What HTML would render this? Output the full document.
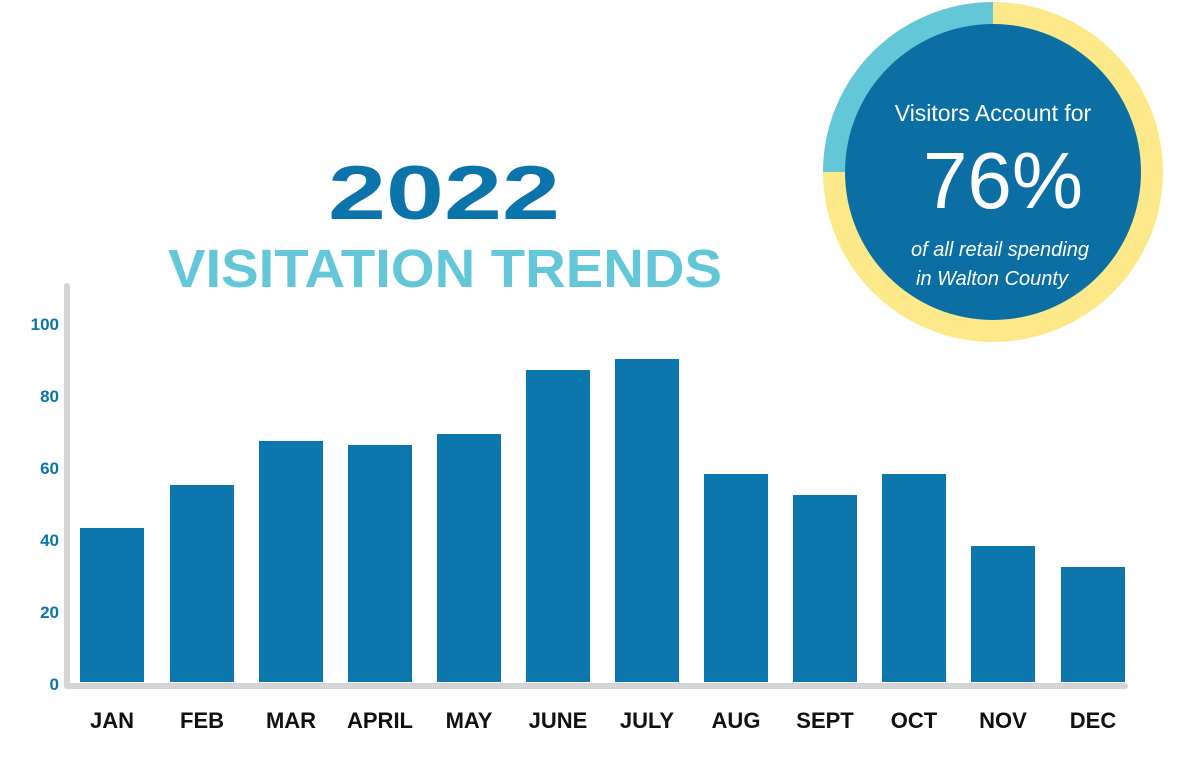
<!DOCTYPE html>
<html><head><style>
body{margin:0;background:#fff;width:1200px;height:758px;overflow:hidden;font-family:"Liberation Sans",sans-serif}
</style></head><body>
<svg width="1200" height="758" xmlns="http://www.w3.org/2000/svg">
<text x="444" y="219" text-anchor="middle" font-family="Liberation Sans" font-weight="bold" font-size="76" fill="#0b74aa" textLength="232" lengthAdjust="spacingAndGlyphs">2022</text>
<text x="445" y="287" text-anchor="middle" font-family="Liberation Sans" font-weight="bold" font-size="54" fill="#63c7d8" textLength="554" lengthAdjust="spacingAndGlyphs">VISITATION TRENDS</text>
<g font-family="Liberation Sans" font-weight="bold" font-size="17" fill="#0b74aa" text-anchor="end">
<text x="59" y="690">0</text><text x="59" y="618">20</text><text x="59" y="546">40</text>
<text x="59" y="474">60</text><text x="59" y="402">80</text><text x="59" y="330">100</text>
</g>
<line x1="67" y1="286" x2="67" y2="686" stroke="#d3d5d6" stroke-width="6" stroke-linecap="round"/>
<line x1="67" y1="686" x2="1125" y2="686" stroke="#d3d5d6" stroke-width="6" stroke-linecap="round"/>
<g fill="#0b77ac">
<rect x="80" y="528" width="64" height="154"/>
<rect x="170" y="485" width="64" height="197"/>
<rect x="259" y="441" width="64" height="241"/>
<rect x="348" y="445" width="64" height="237"/>
<rect x="437" y="434" width="64" height="248"/>
<rect x="526" y="370" width="64" height="312"/>
<rect x="615" y="359" width="64" height="323"/>
<rect x="704" y="474" width="64" height="208"/>
<rect x="793" y="495" width="64" height="187"/>
<rect x="882" y="474" width="64" height="208"/>
<rect x="971" y="546" width="64" height="136"/>
<rect x="1061" y="567" width="64" height="115"/>
</g>
<g font-family="Liberation Sans" font-weight="bold" font-size="22" fill="#111" text-anchor="middle">
<text x="112" y="728">JAN</text><text x="202" y="728">FEB</text><text x="291" y="728">MAR</text>
<text x="380" y="728">APRIL</text><text x="469" y="728">MAY</text><text x="558" y="728">JUNE</text>
<text x="647" y="728">JULY</text><text x="736" y="728">AUG</text><text x="825" y="728">SEPT</text>
<text x="914" y="728">OCT</text><text x="1003" y="728">NOV</text><text x="1093" y="728">DEC</text>
</g>
<circle cx="993" cy="172" r="170" fill="#fde98a"/>
<path d="M993 172 L993 2 A170 170 0 0 0 823 172 Z" fill="#63c7d8"/>
<circle cx="993" cy="172" r="148" fill="#0b6fa3"/>
<g fill="#fff" text-anchor="middle" font-family="Liberation Sans">
<text x="993" y="121" font-size="23">Visitors Account for</text>
<text x="1003" y="208" font-size="80">76%</text>
<text x="1000" y="256" font-size="20" font-style="italic">of all retail spending</text>
<text x="992" y="285" font-size="20" font-style="italic">in Walton County</text>
</g>
</svg>
</body></html>
